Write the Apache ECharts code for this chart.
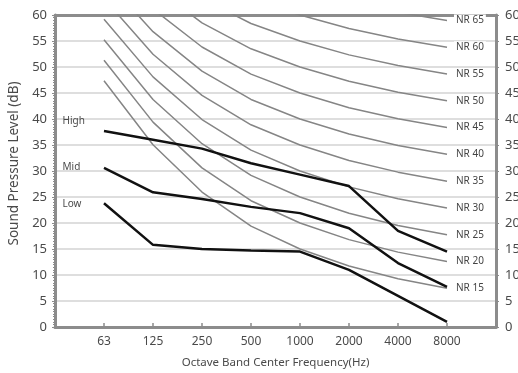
<!DOCTYPE html>
<html>
<head>
<meta charset="utf-8">
<script src="https://cdn.jsdelivr.net/npm/echarts@6/dist/echarts.min.js"></script>
<style>html,body{margin:0;padding:0;background:#fff}#c{width:518px;height:373px}</style>
</head>
<body>
<div id="c"></div>
<script>
const freqLabels = ['63','125','250','500','1000','2000','4000','8000'];
const nrNames = ['NR 15','NR 20','NR 25','NR 30','NR 35','NR 40','NR 45','NR 50','NR 55','NR 60','NR 65'];
const nr15 = [47.35, 35.05, 25.95, 19.41, 15, 11.73, 9.28, 7.45];
const nr20 = [51.3, 39.4, 30.6, 24.28, 20, 16.8, 14.4, 12.6];
const nr25 = [55.25, 43.75, 35.25, 29.15, 25, 21.88, 19.53, 17.75];
const nr30 = [59.2, 48.1, 39.9, 34.02, 30, 26.95, 24.65, 22.9];
const nr35 = [63.15, 52.45, 44.55, 38.89, 35, 32.03, 29.78, 28.05];
const nr40 = [67.1, 56.8, 49.2, 43.76, 40, 37.1, 34.9, 33.2];
const nr45 = [71.05, 61.15, 53.85, 48.63, 45, 42.18, 40.03, 38.35];
const nr50 = [75, 65.5, 58.5, 53.5, 50, 47.25, 45.15, 43.5];
const nr55 = [78.95, 69.85, 63.15, 58.37, 55, 52.33, 50.28, 48.65];
const nr60 = [82.9, 74.2, 67.8, 63.24, 60, 57.4, 55.4, 53.8];
const nr65 = [86.85, 78.55, 72.45, 68.11, 65, 62.48, 60.53, 58.95];
const nrCurves = [nr15, nr20, nr25, nr30, nr35, nr40, nr45, nr50, nr55, nr60, nr65];
const levelNames = ['High', 'Mid', 'Low'];
const high = [37.7, 36.0, 34.3, 31.5, 29.3, 27.1, 18.5, 14.5];
const mid = [30.6, 25.9, 24.6, 23.1, 21.9, 19.0, 12.3, 7.7];
const low = [23.8, 15.8, 15.0, 14.7, 14.5, 11.0, 6.0, 1.0];
const levelCurves = [high, mid, low];
const levelLabelOffsets = [[-41, -9], [-41, 0], [-41, 1]];

const FONT = 'Noto Sans';
const AXIS_COLOR = '#8c8c8c';
const TEXT_COLOR = '#4a4a4a';

const series = [];
nrCurves.forEach((vals, k) => {
  series.push({
    type: 'line',
    name: nrNames[k],
    data: vals.map((v, i) => [i, v]),
    showSymbol: false,
    clip: true,
    lineStyle: { color: '#858585', width: 1.5 },
    z: 2,
    endLabel: {
      show: true,
      formatter: nrNames[k],
      distance: 7,
      fontFamily: FONT,
      fontSize: 10,
      color: '#444',
      backgroundColor: '#fff',
      padding: [1, 2, 1, 2]
    }
  });
});
levelCurves.forEach((vals, k) => {
  series.push({
    type: 'line',
    name: levelNames[k],
    symbol: 'none',
    showSymbol: true,
    data: vals.map((v, i) => i === 0 ? {
      value: [i, v],
      symbol: 'circle',
      symbolSize: 1,
      itemStyle: { color: 'rgba(0,0,0,0)' },
      label: {
        show: true,
        formatter: levelNames[k],
        position: levelLabelOffsets[k],
        align: 'left',
        verticalAlign: 'middle',
        fontFamily: FONT,
        fontSize: 10,
        color: TEXT_COLOR
      }
    } : [i, v]),
    lineStyle: { color: '#111', width: 2.5 },
    z: 3
  });
});

const chart = echarts.init(document.getElementById('c'), null, { renderer: 'canvas' });
chart.setOption({
  animation: false,
  backgroundColor: '#fff',
  grid: { left: 55, right: 22, top: 15, bottom: 46, containLabel: false, outerBoundsMode: 'none' },
  xAxis: [{
    type: 'value', position: 'bottom', min: -1, max: 8, interval: 1,
    name: 'Octave Band Center Frequency(Hz)', nameLocation: 'middle', nameGap: 30,
    nameTextStyle: { fontFamily: FONT, fontSize: 11.5, color: TEXT_COLOR },
    axisLine: { onZero: false, lineStyle: { color: AXIS_COLOR, width: 3 } },
    axisTick: { inside: true, length: 4, lineStyle: { color: AXIS_COLOR, width: 1.5 } },
    axisLabel: {
      margin: 9, fontFamily: FONT, fontSize: 12, color: TEXT_COLOR,
      formatter: v => (v >= 0 && v < freqLabels.length) ? freqLabels[v] : ''
    },
    splitLine: { show: false }
  }, {
    type: 'value', position: 'top', min: -1, max: 8, interval: 1,
    axisLine: { onZero: false, lineStyle: { color: AXIS_COLOR, width: 3 } },
    axisTick: { show: false }, axisLabel: { show: false }, splitLine: { show: false }
  }],
  yAxis: [{
    type: 'value', position: 'left', min: 0, max: 60, interval: 5,
    name: 'Sound Pressure Level (dB)', nameLocation: 'middle', nameGap: 30, nameRotate: 90,
    nameTextStyle: { fontFamily: FONT, fontSize: 13.5, color: TEXT_COLOR, padding: [0, 0, 0, 15] },
    axisLine: { show: true, onZero: false, lineStyle: { color: AXIS_COLOR, width: 3 } },
    axisTick: { show: true, length: 3, lineStyle: { color: AXIS_COLOR, width: 1 } },
    minorTick: { show: true, splitNumber: 10, length: 2, lineStyle: { color: AXIS_COLOR, width: 1 } },
    axisLabel: { margin: 8, fontFamily: FONT, fontSize: 13, color: TEXT_COLOR },
    splitLine: { show: true, lineStyle: { color: '#d3d3d3', width: 1.5 } }
  }, {
    type: 'value', position: 'right', min: 0, max: 60, interval: 5,
    axisLine: { show: true, onZero: false, lineStyle: { color: AXIS_COLOR, width: 3 } },
    axisTick: { show: true, length: 3, lineStyle: { color: AXIS_COLOR, width: 1 } },
    minorTick: { show: true, splitNumber: 10, length: 2, lineStyle: { color: AXIS_COLOR, width: 1 } },
    axisLabel: { margin: 9, fontFamily: FONT, fontSize: 13, color: TEXT_COLOR },
    splitLine: { show: false }
  }],
  series: series
});
</script>
</body>
</html>
